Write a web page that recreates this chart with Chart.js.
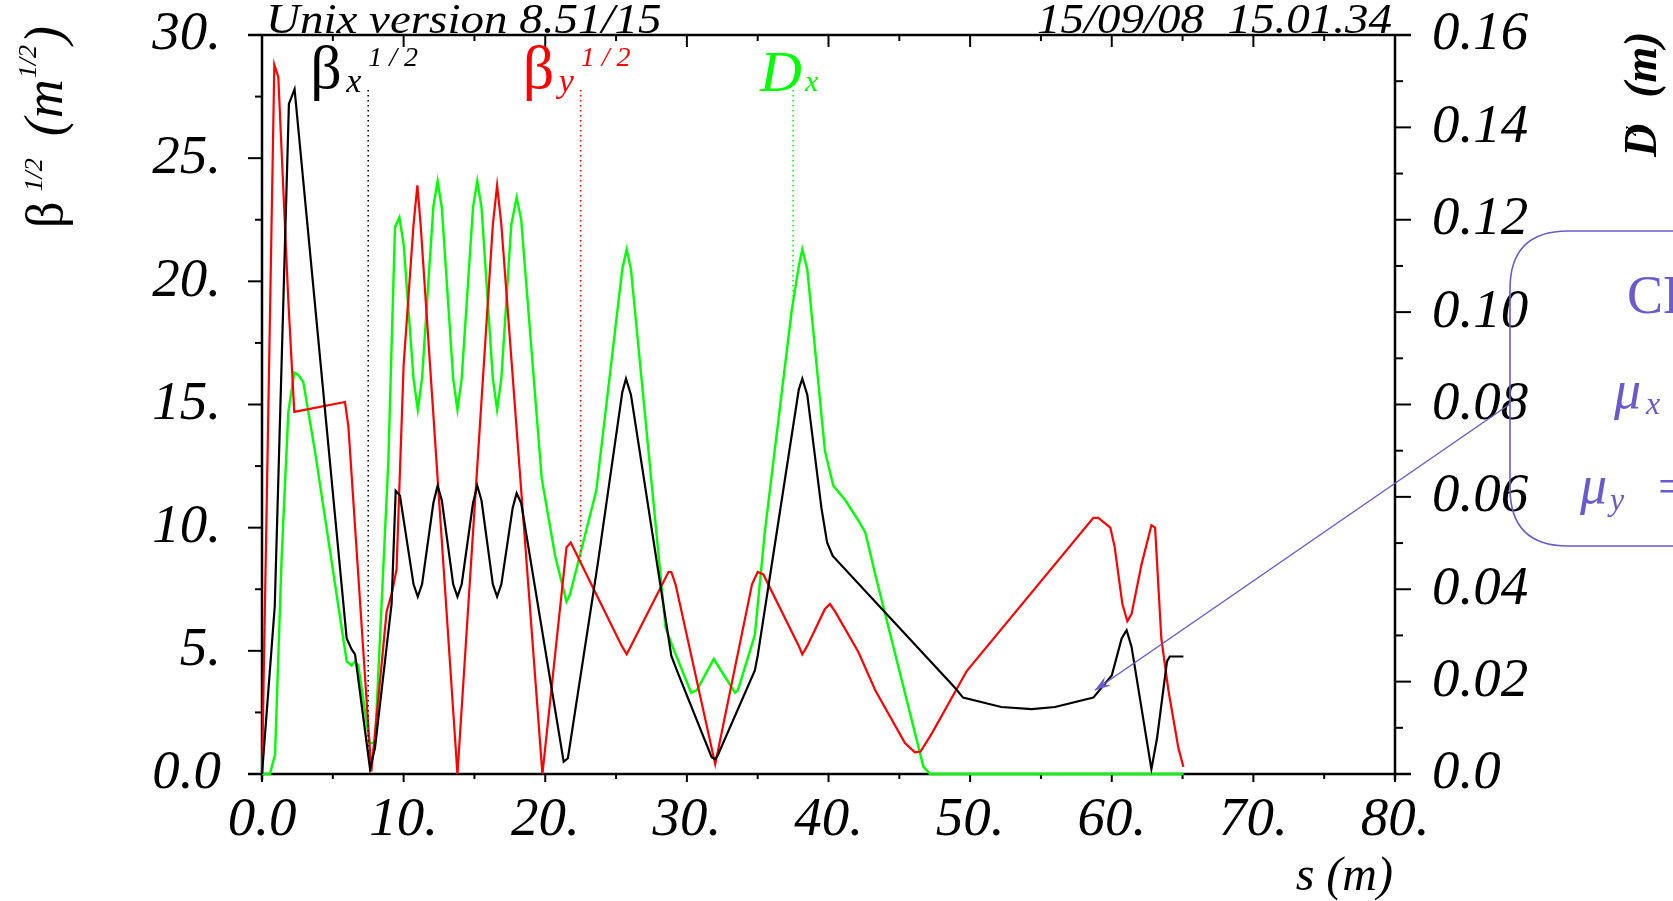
<!DOCTYPE html>
<html><head><meta charset="utf-8">
<script src="https://cdn.jsdelivr.net/npm/chart.js@4/dist/chart.umd.min.js"></script>
<style>html,body{margin:0;padding:0;background:#fff;overflow:hidden}canvas{display:block}</style>
</head><body>
<canvas id="c" width="1673" height="901"></canvas>
<script>
// ---- data (s in m) ----
const sBetaX = [0,0.9,1.9,2.3,5.98,6.33,6.57,7.63,7.98,9.15,9.44,9.74,10.7,11.0,11.3,12.1,12.4,12.7,13.5,13.8,14.1,14.9,15.2,15.5,16.3,16.6,16.9,17.7,17.98,18.3,21.3,21.6,23.7,25.44,25.7,26.05,28.9,29.3,31.75,32.0,32.2,34.8,35.0,37.9,38.15,38.5,39.5,39.9,40.3,48.93,49.5,52.2,54.35,56.0,58.7,60.0,60.7,61.05,61.4,62.8,63.2,63.9,64.1,65.06];
const betaX  = [0,6.8,27.2,27.8,5.5,5.06,4.86,0.2,1.07,6.9,11.5,11.3,7.7,7.2,7.7,11.0,11.7,11.1,7.7,7.2,7.7,11.0,11.7,11.1,7.7,7.2,7.7,10.8,11.4,11.0,0.5,0.64,8.5,15.5,16.05,15.4,4.8,4.2,0.68,0.6,0.78,4.2,4.8,15.6,16.05,15.4,10.8,9.4,8.85,3.5,3.1,2.72,2.63,2.72,3.1,4.0,5.5,5.84,5.16,0.2,1.46,4.57,4.77,4.77];

const sBetaY = [0,0.87,1.15,1.86,2.28,5.86,6.1,7.72,8.8,9.15,9.5,10.0,10.7,10.97,11.2,13.8,16.3,16.6,16.9,19.8,21.5,21.8,25.4,25.75,26.05,28.7,28.9,29.2,32.0,34.6,35.0,35.4,37.9,38.15,38.5,39.75,40.1,40.46,42.1,43.3,45.4,46.1,46.5,47.3,49.76,58.7,59.05,59.9,60.2,60.75,61.1,61.4,62.1,62.8,63.06,63.5,64.0,64.7,65.06];
const betaY  = [0,28.8,28.3,19.2,14.7,15.1,14.1,0.1,6.6,7.3,8.3,16.6,22.3,23.9,22.3,0,22.3,23.9,22.3,0,9.2,9.4,5.2,4.86,5.2,8.2,8.2,7.7,0.4,7.7,8.2,8.1,5.2,4.86,5.2,6.7,6.9,6.6,4.96,3.4,1.26,0.88,0.91,1.65,4.18,10.4,10.4,10.0,9.24,6.9,6.2,6.5,8.5,10.1,10.0,5.5,3.4,1.07,0.29];

const sDispX = [0,0.56,0.92,1.39,1.86,2.28,2.57,2.92,3.74,5.98,6.33,6.57,6.8,7.6,7.98,8.92,9.39,9.7,10.0,10.7,11.0,11.3,12.1,12.4,12.7,13.5,13.8,14.1,14.9,15.2,15.5,16.3,16.6,16.9,17.6,17.98,18.3,19.75,20.7,21.5,21.75,23.6,25.44,25.75,26.05,28.5,29.0,30.3,30.7,31.9,33.4,33.6,34.8,35.5,37.4,37.9,38.15,38.5,39.75,40.34,41.2,42.1,42.6,43.3,46.7,47.17,65.06];
const dispX  = [0,0,0.0042,0.0472,0.0784,0.0869,0.0864,0.0848,0.0699,0.0244,0.0235,0.0244,0.0235,0.0067,0.0067,0.0677,0.1184,0.1205,0.1147,0.0856,0.0789,0.0856,0.1229,0.1284,0.1225,0.0856,0.0789,0.0856,0.1227,0.1284,0.1227,0.0856,0.0789,0.0856,0.1189,0.1248,0.12,0.064,0.0472,0.0373,0.0389,0.0613,0.1093,0.1136,0.1093,0.0316,0.0275,0.0176,0.0181,0.0249,0.0176,0.0181,0.0301,0.0523,0.1003,0.1099,0.1136,0.1093,0.0699,0.0624,0.0592,0.0549,0.0523,0.0432,0.0016,0,0];

// axes
const xRange = [0, 80], xStep = 10;
const yRange = [0, 30], yStep = 5;
const y2Range = [0, 0.16], y2Step = 0.02;
// curve label positions (s)
const labelS = [7.5, 22.5, 37.5];
const headerLeft = "Unix version 8.51/15";
const headerRight = "15/09/08  15.01.34";
const noteTitle = "CELL";
const arrowTarget = [58.8, 3.4];

const FONT = '"Liberation Serif", "Times New Roman", serif';
const BLUE = '#6a5acd';

function interp(xs, ys, s) {
  for (let i = 0; i < xs.length - 1; i++) {
    if (s >= xs[i] && s <= xs[i + 1]) {
      const t = (s - xs[i]) / (xs[i + 1] - xs[i] || 1);
      return ys[i] + t * (ys[i + 1] - ys[i]);
    }
  }
  return ys[ys.length - 1];
}
function line(ctx, x1, y1, x2, y2) { ctx.beginPath(); ctx.moveTo(x1, y1); ctx.lineTo(x2, y2); ctx.stroke(); }
function txt(ctx, s, x, y, font, color, align) {
  ctx.font = font; ctx.fillStyle = color; ctx.textAlign = align || 'left'; ctx.textBaseline = 'alphabetic';
  ctx.fillText(s, x, y); return ctx.measureText(s).width;
}

const framePlugin = {
  id: 'frame',
  beforeDatasetsDraw(chart) {
    const { ctx, chartArea: a, scales } = chart;
    ctx.save();
    ctx.strokeStyle = '#000'; ctx.lineWidth = 2.5;
    line(ctx, a.left - 14, a.top, a.right + 16, a.top);
    line(ctx, a.left - 14, a.bottom, a.right + 16, a.bottom);
    line(ctx, a.left, a.top, a.left, a.bottom + 6);
    line(ctx, a.right, a.top, a.right, a.bottom + 6);
    ctx.lineWidth = 2;
    for (let v = xRange[0]; v <= xRange[1]; v += xStep / 2) {
      const px = scales.x.getPixelForValue(v); const major = v % xStep === 0;
      line(ctx, px, a.top, px, a.top + (major ? 12 : 6));
      line(ctx, px, a.bottom, px, a.bottom + (major ? 8 : 5));
    }
    for (let v = yRange[0]; v <= yRange[1]; v += yStep / 2) {
      const py = scales.y.getPixelForValue(v); const major = v % yStep === 0;
      line(ctx, a.left - (major ? 14 : 7), py, a.left, py);
    }
    for (let i = 0; i <= 16; i++) {
      const py = scales.y2.getPixelForValue(i * y2Step / 2); const major = i % 2 === 0;
      line(ctx, a.right, py, a.right + (major ? 16 : 8), py);
    }
    ctx.restore();
  }
};

const annotPlugin = {
  id: 'annot',
  afterDatasetsDraw(chart) {
    const { ctx, chartArea: a, scales } = chart;
    ctx.save();
    // headers (slightly squashed vertically)
    ctx.save(); ctx.translate(a.left + 4, a.top - 2); ctx.scale(1, 0.9);
    txt(ctx, headerLeft, 0, 0, 'italic 47px ' + FONT, '#000');
    ctx.restore();
    ctx.save(); ctx.translate(a.right - 3, a.top - 2); ctx.scale(1, 0.9);
    txt(ctx, headerRight, 0, 0, 'italic 47px ' + FONT, '#000', 'right');
    ctx.restore();

    // x title
    txt(ctx, 's (m)', a.right - 2, 890, 'italic 48px ' + FONT, '#000', 'right');

    // left y title (rotated)
    ctx.save(); ctx.translate(62, 228); ctx.rotate(-Math.PI / 2);
    let u = 0;
    u += txt(ctx, 'β', u, 0, '52px ' + FONT, '#000');
    u += 10;
    u += txt(ctx, '1/2', u, -20, 'italic 26px ' + FONT, '#000');
    u += 22;
    u += txt(ctx, '(', u, 0, 'italic 54px ' + FONT, '#000');
    u += txt(ctx, 'm', u, 0, 'italic 54px ' + FONT, '#000');
    u += 1;
    u += txt(ctx, '1/2', u, -26, 'italic 26px ' + FONT, '#000');
    u += 1;
    txt(ctx, ')', u, 0, 'italic 54px ' + FONT, '#000');
    ctx.restore();

    // right y title (rotated)
    ctx.save(); ctx.translate(1656, 157); ctx.rotate(-Math.PI / 2);
    u = 0;
    u += txt(ctx, 'D', u, 0, 'bold italic 46px ' + FONT, '#000');
    txt(ctx, 'x', u - 12, -20, 'bold italic 20px ' + FONT, '#000');
    u += 26;
    txt(ctx, '(m)', u, 0, 'bold italic 46px ' + FONT, '#000');
    ctx.restore();

    // curve labels with dotted leaders
    const series = [
      { xs: sBetaX, ys: betaX, axis: 'y', color: '#000' },
      { xs: sBetaY, ys: betaY, axis: 'y', color: '#ff0000' },
      { xs: sDispX, ys: dispX, axis: 'y2', color: '#00ff00' }
    ];
    const topY = a.top + 55;
    series.forEach((sr, i) => {
      const s = labelS[i];
      const px = scales.x.getPixelForValue(s);
      const py = scales[sr.axis].getPixelForValue(interp(sr.xs, sr.ys, s));
      ctx.save(); ctx.strokeStyle = sr.color; ctx.lineWidth = 1.6; ctx.setLineDash([1.6, 3.4]);
      line(ctx, px, topY, px, py); ctx.restore();
      if (i < 2) {
        txt(ctx, 'β', px - 58, topY - 2, '62px ' + FONT, sr.color);
        txt(ctx, i === 0 ? 'x' : 'y', px - 22, topY + 2, 'italic 34px ' + FONT, sr.color);
        txt(ctx, '1 / 2', px, topY - 24, 'italic 28px ' + FONT, sr.color);
      } else {
        txt(ctx, 'D', px - 33, topY + 1, 'italic 58px ' + FONT, sr.color);
        txt(ctx, 'x', px + 12, topY + 1, 'italic 30px ' + FONT, sr.color);
      }
    });

    // annotation box
    ctx.strokeStyle = BLUE; ctx.lineWidth = 1.6;
    const bx = 1510, by = 231, bw = 400, bh = 315, r = 58;
    ctx.beginPath();
    ctx.moveTo(bx + bw, by); ctx.lineTo(bx + r, by);
    ctx.quadraticCurveTo(bx, by, bx, by + r);
    ctx.lineTo(bx, by + bh - r);
    ctx.quadraticCurveTo(bx, by + bh, bx + r, by + bh);
    ctx.lineTo(bx + bw, by + bh);
    ctx.stroke();
    txt(ctx, noteTitle, 1627, 313, '54px ' + FONT, BLUE);
    txt(ctx, 'μ', 1614, 408, 'italic 54px ' + FONT, BLUE);
    txt(ctx, 'x', 1646, 414, 'italic 32px ' + FONT, BLUE);
    txt(ctx, 'μ', 1580, 503, 'italic 54px ' + FONT, BLUE);
    txt(ctx, 'y', 1610, 510, 'italic 32px ' + FONT, BLUE);
    txt(ctx, '= 0.25', 1658, 503, '50px ' + FONT, BLUE);

    // arrow
    const tx = scales.x.getPixelForValue(arrowTarget[0]);
    const ty = scales.y.getPixelForValue(arrowTarget[1]);
    const sx = bx, sy = 404;
    ctx.lineWidth = 1.5;
    line(ctx, sx, sy, tx, ty);
    const ang = Math.atan2(ty - sy, tx - sx);
    const L = 17, w = 0.32;
    ctx.fillStyle = BLUE;
    ctx.beginPath();
    ctx.moveTo(tx, ty);
    ctx.lineTo(tx - L * Math.cos(ang - w), ty - L * Math.sin(ang - w));
    ctx.lineTo(tx - 0.6 * L * Math.cos(ang), ty - 0.6 * L * Math.sin(ang));
    ctx.lineTo(tx - L * Math.cos(ang + w), ty - L * Math.sin(ang + w));
    ctx.closePath(); ctx.fill();
    ctx.restore();
  }
};

const toPts = (xs, ys) => xs.map((x, i) => ({ x, y: ys[i] }));
const tickFont = { family: '"Liberation Serif"', size: 55, style: 'italic' };

function fixV(w) { return s => { s.width = w; s.paddingTop = 0; s.paddingBottom = 0; }; }

new Chart(document.getElementById('c').getContext('2d'), {
  type: 'line',
  data: {
    datasets: [
      { label: 'betx', data: toPts(sBetaX, betaX), borderColor: '#000000', yAxisID: 'y', clip: 3 },
      { label: 'bety', data: toPts(sBetaY, betaY), borderColor: '#ff0000', yAxisID: 'y', clip: 3 },
      { label: 'dx', data: toPts(sDispX, dispX), borderColor: '#00ff00', yAxisID: 'y2', clip: 3, borderWidth: 2.4 }
    ]
  },
  options: {
    responsive: false, animation: false, devicePixelRatio: 1,
    layout: { padding: { top: 35, left: 0, right: 0, bottom: 0 } },
    elements: { point: { radius: 0 }, line: { borderWidth: 2.2, tension: 0 } },
    plugins: { legend: { display: false }, tooltip: { enabled: false } },
    scales: {
      x: {
        type: 'linear', position: 'bottom', min: xRange[0], max: xRange[1],
        grid: { display: false, drawTicks: false }, border: { display: false },
        ticks: { stepSize: xStep, autoSkip: false, maxRotation: 0, padding: 14, color: '#000', font: tickFont,
          callback: v => v === 0 ? '0.0' : v + '.' },
        afterFit(s) { s.height = 127; s.paddingLeft = 0; s.paddingRight = 0; }
      },
      y: {
        type: 'linear', position: 'left', min: yRange[0], max: yRange[1],
        grid: { display: false, drawTicks: false }, border: { display: false },
        ticks: { stepSize: yStep, padding: 41, color: '#000', font: tickFont,
          callback: v => v === 0 ? '0.0' : v + '.' },
        afterFit: fixV(262)
      },
      y2: {
        type: 'linear', position: 'right', min: y2Range[0], max: y2Range[1],
        grid: { display: false, drawTicks: false }, border: { display: false },
        ticks: { stepSize: y2Step, padding: 37, color: '#000', font: tickFont,
          callback: v => v === 0 ? '0.0' : (+v).toFixed(2) },
        afterFit: fixV(278)
      }
    }
  },
  plugins: [framePlugin, annotPlugin]
});
</script>
</body></html>
